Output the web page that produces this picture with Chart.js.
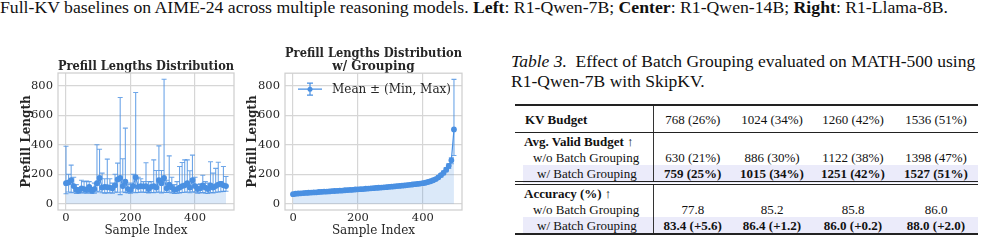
<!DOCTYPE html>
<html>
<head>
<meta charset="utf-8">
<script src="https://cdn.jsdelivr.net/npm/chart.js@4"></script>
<style>
  body { margin: 0; width: 985px; height: 246px; background: #fff; position: relative; overflow: hidden; }
  #topline { position: absolute; left: 0; top: -2px; font: 16px 'Liberation Serif', serif; line-height: 20px; white-space: nowrap; color: #111; transform-origin: 0 0; }
  #rawChart { position: absolute; left: 0; top: 40px; }
  #groupChart { position: absolute; left: 245px; top: 40px; }
  #cap { position: absolute; left: 511px; top: 51px; font: 17.5px 'Liberation Serif', serif; line-height: 20px; color: #111; white-space: nowrap; }
  #tbl { position: absolute; left: 515px; top: 104px; width: 463px; border-collapse: collapse; table-layout: fixed;
         font: 13px 'Liberation Serif', serif; color: #111; }
  #tbl td { padding: 0; height: 16px; line-height: 15px; text-align: center; white-space: nowrap; }
  #tbl td.lab { text-align: left; border-right: 1px solid #333; }
  #tbl tr.head td { height: 26px; border-top: 2px solid #222; border-bottom: 1px solid #222; }
  #tbl tr.hi td { background: #ebebfa; }
  #tbl tr.hi td.lab { background: linear-gradient(to right, #fff 8px, #ebebfa 8px); }
  #tbl tr.dbl td { border-bottom: 4px double #222; }
  #tbl tr.last td { border-bottom: 2px solid #222; }
</style>
</head>
<body>
<div id="topline">Full-KV baselines on AIME-24 across multiple reasoning models. <b>Left</b>: R1-Qwen-7B; <b>Center</b>: R1-Qwen-14B; <b>Right</b>: R1-Llama-8B.</div>

<canvas id="rawChart" width="245" height="206"></canvas>
<canvas id="groupChart" width="240" height="206"></canvas>

<div id="cap"><i>Table 3.</i>&nbsp; Effect of Batch Grouping evaluated on MATH-500 using<br>R1-Qwen-7B with SkipKV.</div>
<table id="tbl">
  <colgroup><col style="width:138px"><col style="width:79px"><col style="width:80px"><col style="width:82px"><col style="width:84px"></colgroup>
  <tr class="head"><td class="lab" style="padding-left:10px"><b>KV Budget</b></td><td>768 (26%)</td><td>1024 (34%)</td><td>1260 (42%)</td><td>1536 (51%)</td></tr>
  <tr><td class="lab" style="padding-left:9px"><b>Avg. Valid Budget ↑</b></td><td></td><td></td><td></td><td></td></tr>
  <tr><td class="lab" style="padding-left:18px">w/o Batch Grouping</td><td>630 (21%)</td><td>886 (30%)</td><td>1122 (38%)</td><td>1398 (47%)</td></tr>
  <tr class="hi dbl"><td class="lab" style="padding-left:22px">w/ Batch Grouping</td><td><b>759 (25%)</b></td><td><b>1015 (34%)</b></td><td><b>1251 (42%)</b></td><td><b>1527 (51%)</b></td></tr>
  <tr><td class="lab" style="padding-left:9px"><b>Accuracy (%) ↑</b></td><td></td><td></td><td></td><td></td></tr>
  <tr><td class="lab" style="padding-left:18px">w/o Batch Grouping</td><td>77.8</td><td>85.2</td><td>85.8</td><td>86.0</td></tr>
  <tr class="hi last"><td class="lab" style="padding-left:22px">w/ Batch Grouping</td><td><b>83.4 (+5.6)</b></td><td><b>86.4 (+1.2)</b></td><td><b>86.0 (+0.2)</b></td><td><b>88.0 (+2.0)</b></td></tr>
</table>

<script>
// sample index of each batch (x positions)
const sampleIdx = [0, 8, 16, 24, 32, 40, 48, 56, 64, 72, 80, 88, 96, 104, 112, 120, 128, 136, 144, 152,
  160, 168, 176, 184, 192, 200, 208, 216, 224, 232, 240, 248, 256, 264, 272, 280, 288, 296, 304, 312,
  320, 328, 336, 344, 352, 360, 368, 376, 384, 392, 400, 408, 416, 424, 432, 440, 448, 456, 464, 472,
  480, 488, 496];

// left: batches in original order
const rawMean = [140, 145, 160, 120, 95, 90, 105, 100, 95, 115, 90, 100, 140, 175, 110, 115, 112, 110, 105, 125,
  165, 175, 120, 150, 100, 95, 120, 180, 115, 120, 118, 120, 100, 115, 120, 110, 160, 140, 175, 105,
  130, 110, 95, 100, 110, 120, 125, 140, 110, 160, 120, 100, 105, 125, 110, 100, 125, 110, 120, 130,
  135, 125, 120];
const rawMin = [68, 80, 75, 78, 70, 72, 75, 74, 72, 75, 70, 72, 80, 85, 75, 72, 74, 75, 72, 80,
  78, 62, 80, 76, 74, 72, 78, 75, 76, 80, 78, 77, 74, 76, 75, 78, 80, 74, 78, 76,
  80, 74, 70, 72, 74, 76, 78, 80, 75, 82, 78, 72, 74, 76, 72, 70, 76, 74, 78, 80,
  82, 84, 85];
const rawMax = [390, 200, 262, 180, 130, 110, 160, 150, 155, 150, 110, 140, 400, 370, 208, 170, 303, 170, 140, 200,
  276, 721, 305, 513, 130, 140, 200, 755, 180, 170, 150, 278, 150, 150, 298, 226, 393, 226, 845, 160,
  325, 180, 130, 150, 253, 280, 298, 298, 224, 330, 180, 130, 135, 194, 150, 140, 285, 208, 240, 282,
  150, 253, 185];

// center: batches after grouping by length
const groupMean = [65, 68, 70, 71, 73, 74, 75, 76, 77, 78, 80, 81, 82, 83, 84, 86, 87, 88, 89, 90,
  92, 93, 94, 95, 97, 98, 99, 100, 102, 103, 105, 106, 108, 109, 110, 112, 113, 115, 116, 118,
  120, 121, 123, 125, 127, 129, 131, 133, 135, 137, 140, 143, 148, 153, 160, 168, 180, 195, 210, 232,
  258, 295, 505];
const groupMin = [60, 64, 66, 68, 70, 71, 72, 73, 74, 75, 77, 78, 79, 80, 81, 83, 84, 85, 86, 87,
  89, 90, 91, 92, 94, 95, 96, 97, 99, 100, 102, 103, 105, 106, 107, 109, 110, 112, 113, 115,
  117, 118, 120, 122, 124, 126, 128, 130, 132, 134, 136, 139, 143, 147, 152, 160, 170, 183, 198, 218,
  240, 272, 328];
const groupMax = [68, 70, 72, 73, 75, 76, 77, 78, 79, 80, 82, 83, 84, 85, 86, 88, 89, 90, 91, 92,
  94, 95, 96, 97, 99, 100, 101, 102, 104, 105, 107, 108, 110, 111, 112, 114, 115, 117, 118, 120,
  122, 123, 125, 128, 130, 132, 134, 136, 138, 140, 144, 147, 153, 158, 168, 176, 190, 205, 222, 245,
  272, 312, 845];

const xTicks = [0, 200, 400];
const yTicks = [0, 200, 400, 600, 800];

const blue = 'rgb(74,144,226)';
const barBlue = 'rgba(74,144,226,0.8)';
const fillBlue = 'rgba(74,144,226,0.2)';
const ink = '#262626';
const gridGray = '#d6d6d6';
const serif = "'DejaVu Serif', serif";

// stretch the cut-off caption line to the page width
const topline = document.getElementById('topline');
topline.style.transform = 'scaleX(' + (948 / topline.offsetWidth) + ')';

// min-max whiskers, drawn right before the mean line
const errorBars = {
  id: 'errorBars',
  beforeDatasetDraw(chart, args) {
    const ds = chart.data.datasets[args.index];
    if (!ds.errMin) return;
    const {ctx, scales: {x, y}} = chart;
    const cap = 2.5;
    ctx.save();
    ctx.strokeStyle = barBlue;
    ctx.lineWidth = 1.1;
    ds.data.forEach((p, i) => {
      const px = x.getPixelForValue(p.x);
      const lo = y.getPixelForValue(ds.errMin[i]);
      const hi = y.getPixelForValue(ds.errMax[i]);
      ctx.beginPath();
      ctx.moveTo(px, lo); ctx.lineTo(px, hi);
      ctx.moveTo(px - cap, lo); ctx.lineTo(px + cap, lo);
      ctx.moveTo(px - cap, hi); ctx.lineTo(px + cap, hi);
      ctx.stroke();
    });
    ctx.restore();
  }
};

// light grey box round the plot area
const frame = {
  id: 'frame',
  beforeDatasetsDraw(chart) {
    const {ctx, chartArea: a} = chart;
    ctx.save();
    ctx.strokeStyle = '#cfcfcf';
    ctx.lineWidth = 1.25;
    ctx.strokeRect(a.left, a.top, a.right - a.left, a.bottom - a.top);
    ctx.restore();
  }
};

// legend inside the plot, top left (matplotlib style)
const innerLegend = {
  id: 'innerLegend',
  afterDatasetsDraw(chart, args, opts) {
    if (!opts.text) return;
    const {ctx, chartArea: a} = chart;
    const cx = a.left + 25, cy = a.top + 16;
    ctx.save();
    ctx.strokeStyle = blue;
    ctx.fillStyle = blue;
    ctx.lineWidth = 1.2;
    ctx.beginPath();
    ctx.moveTo(cx - 12, cy); ctx.lineTo(cx + 12, cy);
    ctx.moveTo(cx, cy - 6); ctx.lineTo(cx, cy + 6);
    ctx.moveTo(cx - 3, cy - 6); ctx.lineTo(cx + 3, cy - 6);
    ctx.moveTo(cx - 3, cy + 6); ctx.lineTo(cx + 3, cy + 6);
    ctx.stroke();
    ctx.beginPath();
    ctx.arc(cx, cy, 2.5, 0, Math.PI * 2);
    ctx.fill();
    ctx.fillStyle = ink;
    ctx.font = '12px ' + serif;
    ctx.textBaseline = 'middle';
    ctx.fillText(opts.text, a.left + 47, cy + 0.5);
    ctx.restore();
  }
};

function makeChart(id, title, means, mins, maxs, o) {
  const meanPts = sampleIdx.map((x, i) => ({x: x, y: means[i]}));
  const minPts = sampleIdx.map((x, i) => ({x: x, y: mins[i]}));
  return new Chart(document.getElementById(id), {
    type: 'line',
    data: {
      datasets: [{
        label: 'Mean ± (Min, Max)',
        data: meanPts,
        errMin: mins,
        errMax: maxs,
        borderColor: blue,
        backgroundColor: blue,
        borderWidth: 1.2,
        pointRadius: 2.3,
        pointHoverRadius: 2.3,
        fill: false,
        tension: 0
      }, {
        label: 'min',
        data: minPts,
        borderWidth: 0,
        pointRadius: 0,
        fill: 'origin',
        backgroundColor: fillBlue
      }]
    },
    options: {
      responsive: false,
      animation: false,
      events: [],
      layout: { padding: { left: 0, right: o.padRight, top: 0, bottom: 0 } },
      plugins: {
        title: {
          display: true, fullSize: false, text: title, color: ink,
          font: { family: serif, size: 12, weight: 'bold', lineHeight: 1.1 },
          padding: { top: o.titleTop, bottom: o.titleBottom }
        },
        legend: { display: false },
        innerLegend: { text: o.legend },
        tooltip: { enabled: false }
      },
      scales: {
        x: {
          type: 'linear', min: -24.8, max: 520.8,
          afterBuildTicks: s => { s.ticks = xTicks.map(v => ({value: v})); },
          afterFit: s => { s.height = 36; },
          grid: { color: gridGray, lineWidth: 1.2, drawTicks: false },
          border: { display: false },
          ticks: { color: ink, font: { family: serif, size: 11.5 }, padding: 1.5, maxRotation: 0 },
          title: { display: true, text: 'Sample Index', color: ink, font: { family: serif, size: 12 }, padding: { top: 0, bottom: 7.5 } }
        },
        y: {
          type: 'linear', min: -42.25, max: 887.25,
          afterBuildTicks: s => { s.ticks = yTicks.map(v => ({value: v})); },
          afterFit: s => { s.width = o.yWidth; },
          grid: { color: gridGray, lineWidth: 1.2, drawTicks: false },
          border: { display: false },
          ticks: { color: ink, font: { family: serif, size: 11.5 }, padding: 5 },
          title: { display: true, text: 'Prefill Length', color: ink, font: { family: serif, size: 12, weight: 'bold' }, padding: { top: o.yTitlePad, bottom: 0 } }
        }
      }
    },
    plugins: [frame, errorBars, innerLegend]
  });
}

makeChart('rawChart', 'Prefill Lengths Distribution', rawMean, rawMin, rawMax,
  { padRight: 11, titleTop: 20, titleBottom: -0.2, yWidth: 58, yTitlePad: 20, legend: null });
makeChart('groupChart', ['Prefill Lengths Distribution', 'w/ Grouping'], groupMean, groupMin, groupMax,
  { padRight: 23, titleTop: 7, titleBottom: -0.2, yWidth: 40, yTitlePad: 1, legend: 'Mean ± (Min, Max)' });
</script>
</body>
</html>
